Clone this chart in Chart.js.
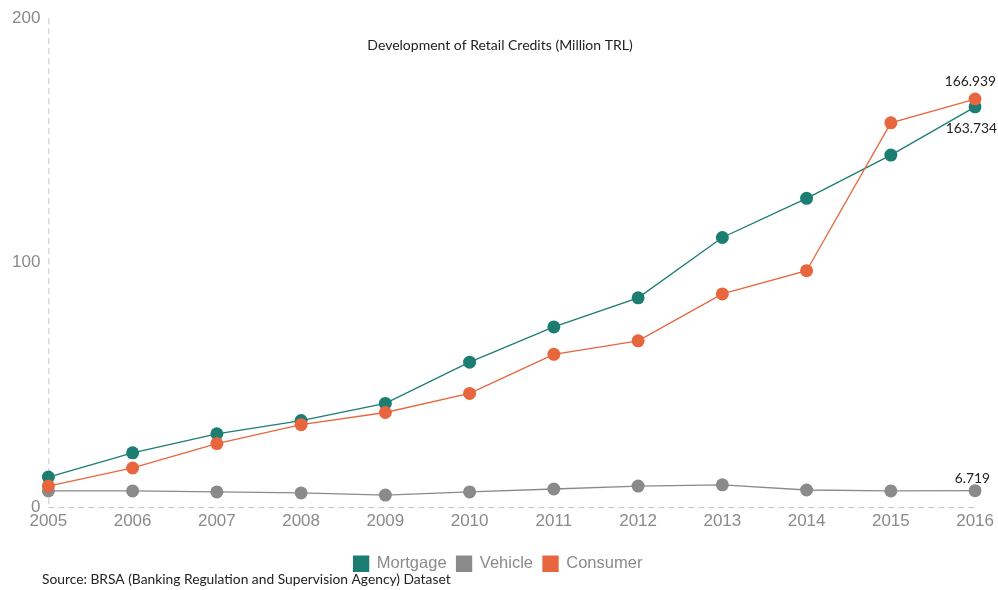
<!DOCTYPE html>
<html><head><meta charset="utf-8">
<script src="https://cdn.jsdelivr.net/npm/chart.js@4/dist/chart.umd.min.js"></script>
<style>html,body{margin:0;padding:0;background:#fff}#wrap{width:998px;height:590px;position:relative}</style>
</head><body><div id="wrap"><canvas id="c"></canvas></div>
<script>
const years = ['2005','2006','2007','2008','2009','2010','2011','2012','2013','2014','2015','2016'];
const mortgage = [12.3, 22.2, 30.0, 35.4, 42.4, 59.3, 73.7, 85.6, 110.3, 126.3, 144.0, 163.734];
const vehicle = [6.6, 6.6, 6.2, 5.8, 4.9, 6.2, 7.4, 8.6, 9.1, 7.0, 6.6, 6.719];
const consumer = [8.6, 16.0, 26.0, 33.7, 38.7, 46.5, 62.5, 68.0, 87.2, 96.7, 157.2, 166.939];
const yTicks = [0, 100, 200];
const titleText = 'Development of Retail Credits (Million TRL)';
const sourceText = 'Source: BRSA (Banking Regulation and Supervision Agency) Dataset';
const endLabels = ['163.734', '6.719', '166.939'];

const colors = ['#1c7d72', '#8a8a8a', '#e8663d'];

const axesDash = {
  id: 'axesDash',
  beforeDatasetsDraw(chart) {
    const ctx = chart.ctx, a = chart.chartArea;
    ctx.save();
    ctx.strokeStyle = '#c4c4c4';
    ctx.lineWidth = 1;
    ctx.setLineDash([6, 4]);
    ctx.beginPath();
    ctx.moveTo(a.left + 0.5, a.top);
    ctx.lineTo(a.left + 0.5, a.bottom);
    ctx.moveTo(a.left, a.bottom + 0.5);
    ctx.lineTo(a.right, a.bottom + 0.5);
    ctx.stroke();
    ctx.restore();
  }
};

const extras = {
  id: 'extras',
  afterDraw(chart) {
    const ctx = chart.ctx;
    ctx.save();
    ctx.fillStyle = '#222';
    ctx.font = '14px Lato';
    ctx.textAlign = 'center';
    ctx.textBaseline = 'middle';
    ctx.fillText(titleText, 500, 45);
    ctx.textAlign = 'left';
    ctx.font = '13.8px Lato';
    ctx.fillText(sourceText, 42, 580);
    const xs = chart.scales.x, ys = chart.scales.y;
    const last = years.length - 1;
    const x = xs.getPixelForValue(last);
    ctx.font = '13.8px Lato';
    ctx.textAlign = 'right';
    ctx.fillText(endLabels[2], x + 21, ys.getPixelForValue(consumer[last]) - 17);
    ctx.fillText(endLabels[0], x + 22, ys.getPixelForValue(mortgage[last]) + 22);
    ctx.fillText(endLabels[1], x + 15, ys.getPixelForValue(vehicle[last]) - 12);
    ctx.restore();
  }
};

new Chart(document.getElementById('c'), {
  type: 'line',
  data: {
    labels: years,
    datasets: [
      { label: 'Mortgage', data: mortgage, borderColor: colors[0], backgroundColor: colors[0], pointBackgroundColor: colors[0], borderWidth: 1.3, pointRadius: 6.5, pointBorderWidth: 0, order: 2 },
      { label: 'Vehicle', data: vehicle, borderColor: colors[1], backgroundColor: colors[1], pointBackgroundColor: colors[1], borderWidth: 1.3, pointRadius: 6.5, pointBorderWidth: 0, order: 3 },
      { label: 'Consumer', data: consumer, borderColor: colors[2], backgroundColor: colors[2], pointBackgroundColor: colors[2], borderWidth: 1.3, pointRadius: 6.5, pointBorderWidth: 0, order: 1 }
    ]
  },
  options: {
    responsive: true,
    maintainAspectRatio: false,
    animation: false,
    layout: { padding: { top: 13, right: 6, left: 4, bottom: 8 } },
    plugins: {
      legend: {
        position: 'bottom',
        labels: { sort: (a, b) => a.datasetIndex - b.datasetIndex, boxWidth: 15, boxHeight: 15, color: '#8a8a8a', font: { family: 'Liberation Sans', size: 16.5 }, padding: 10 }
      },
      tooltip: { enabled: false }
    },
    scales: {
      x: {
        offset: false,
        grid: { display: false, drawTicks: false },
        border: { display: false },
        afterFit(scale) { scale.height += 10; },
        ticks: { color: '#8a8a8a', font: { family: 'Liberation Sans', size: 17 }, padding: 4, maxRotation: 0, autoSkip: false }
      },
      y: {
        min: 0, max: 200,
        afterBuildTicks(scale) { scale.ticks = yTicks.map(v => ({ value: v })); },
        grid: { display: false, drawTicks: false },
        border: { display: false },
        ticks: { color: '#8a8a8a', font: { family: 'Liberation Sans', size: 17 }, padding: 8 }
      }
    }
  },
  plugins: [axesDash, extras]
});
</script></body></html>
